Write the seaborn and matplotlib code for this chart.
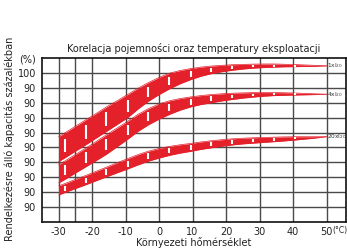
import pandas as pd
import seaborn as sns
import matplotlib.pyplot as plt

# band edges (y in grid steps: 0 = bottom frame, 11 = top frame)
temps = [-30, -28.2, -25.05, -21.9, -18.8, -15.7, -12.55, -9.4, -6.3, -3.2, 0, 3.1, 6.25,
         9.4, 12.5, 15.6, 18.75, 21.9, 25, 28.1, 31.25, 34.4, 37.5, 40.6, 45.3, 50]

top_1x = [5.72, 5.97, 6.41, 6.85, 7.28, 7.72, 8.13, 8.55, 8.97, 9.35, 9.70, 9.98, 10.16,
          10.29, 10.39, 10.46, 10.51, 10.55, 10.57, 10.59, 10.60, 10.60, 10.58, 10.56, 10.52, 10.47]
bot_1x = [4.05, 4.30, 4.74, 5.18, 5.63, 6.08, 6.54, 7.00, 7.58, 8.10, 8.55, 8.93, 9.27,
          9.55, 9.78, 9.95, 10.08, 10.18, 10.26, 10.32, 10.36, 10.39, 10.41, 10.42, 10.44, 10.47]

top_4x = [3.83, 4.08, 4.52, 4.95, 5.40, 5.85, 6.30, 6.75, 7.22, 7.60, 7.92, 8.13, 8.28,
          8.39, 8.48, 8.55, 8.60, 8.64, 8.66, 8.68, 8.68, 8.68, 8.67, 8.65, 8.61, 8.57]
bot_4x = [2.62, 2.85, 3.28, 3.70, 4.12, 4.55, 5.05, 5.55, 6.08, 6.52, 6.90, 7.22, 7.50,
          7.72, 7.88, 8.00, 8.12, 8.22, 8.31, 8.38, 8.44, 8.48, 8.50, 8.52, 8.54, 8.57]

top_20x = [2.42, 2.57, 2.85, 3.12, 3.40, 3.68, 3.97, 4.25, 4.52, 4.75, 4.93, 5.07, 5.18,
           5.27, 5.37, 5.45, 5.52, 5.58, 5.62, 5.65, 5.67, 5.69, 5.71, 5.72, 5.72, 5.72]
bot_20x = [1.81, 1.97, 2.24, 2.50, 2.77, 3.03, 3.30, 3.56, 3.83, 4.08, 4.29, 4.47, 4.62,
           4.74, 4.87, 4.98, 5.08, 5.17, 5.24, 5.29, 5.34, 5.39, 5.44, 5.50, 5.60, 5.72]

# temperatures where the white dashes sit
dash_temps = [-28.2, -21.9, -15.7, -9.4, -3.2, 3.1, 9.4, 15.6, 21.9, 28.1, 34.4, 40.6]

band_names = ["1xI$_{20}$", "4xI$_{20}$", "20xI$_{20}$"]

x_ticks = [-30, -20, -10, 0, 10, 20, 30, 40, 50]
x_grid = [-30, -25, -20, -10, 0, 10, 20, 30, 40, 50]
y_ticks = list(range(1, 12))
y_tick_labels = ["90"] * 9 + ["100", "(%)"]

RED = "#e4202a"

sns.set_theme(style="white")
plt.rcParams["font.family"] = ["Liberation Sans Narrow", "DejaVu Sans"]
plt.rcParams["axes.unicode_minus"] = False

fig = plt.figure(figsize=(3.47, 2.48), dpi=100)
ax = fig.add_axes([0.1196, 0.1048, 0.8775, 0.6613])

bands = [(top_1x, bot_1x), (top_4x, bot_4x), (top_20x, bot_20x)]
for (top, bot), name in zip(bands, band_names):
    df = pd.DataFrame({"temp": temps, "top": top, "bot": bot})
    ax.fill_between(df["temp"], df["bot"], df["top"], color=RED, lw=0, zorder=3)
    sns.lineplot(data=df, x="temp", y="top", color=RED, lw=0.5, ax=ax, zorder=3)
    sns.lineplot(data=df, x="temp", y="bot", color=RED, lw=0.5, ax=ax, zorder=3)

    # white dashes along the middle of the band
    d = df[df["temp"].isin(dash_temps)]
    mid = (d["top"] + d["bot"]) / 2
    half = ((d["top"] - d["bot"]) * 0.55).clip(lower=0.13) / 2
    ax.vlines(d["temp"], mid - half, mid + half, color="white", lw=1.5, zorder=4)

    ax.text(50.2, df["top"].iloc[-1], name, fontsize=4.2, color="#333333",
            ha="left", va="center", zorder=5)

ax.set_xlim(-35.1, 55.8)
ax.set_ylim(0, 11)
ax.set_xticks(x_ticks)
ax.set_yticks(y_ticks)
ax.set_yticklabels(y_tick_labels)
ax.tick_params(axis="both", length=0, labelsize=7, colors="#222222")
ax.tick_params(axis="x", pad=3.5)
ax.tick_params(axis="y", pad=4)

for xv in x_grid:
    ax.axvline(xv, color="#4a4a4a", lw=1.0, zorder=1)
for yv in range(1, 11):
    ax.axhline(yv, color="#4a4a4a", lw=1.0, zorder=1)

for sp in ax.spines.values():
    sp.set_color("#111111")
    sp.set_linewidth(1.2)
    sp.set_visible(True)

ax.set_xlabel("")
ax.set_ylabel("Rendelkezésre álló kapacitás százalékban", fontsize=7, color="#222222")
ax.yaxis.set_label_coords(-0.087, 0.51)

ax.text(54.0, -0.049, "(°C)", transform=ax.get_xaxis_transform(), fontsize=5.5,
        color="#222222", ha="center", va="center")

fig.text(193.5 / 347, 1 - 48 / 248, "Korelacja pojemności oraz temperatury eksploatacji",
         fontsize=7, color="#222222", ha="center", va="center")
fig.text(194 / 347, 1 - 243 / 248, "Környezeti hőmérséklet",
         fontsize=7, color="#222222", ha="center", va="center")

plt.savefig("out.png", dpi=100)
